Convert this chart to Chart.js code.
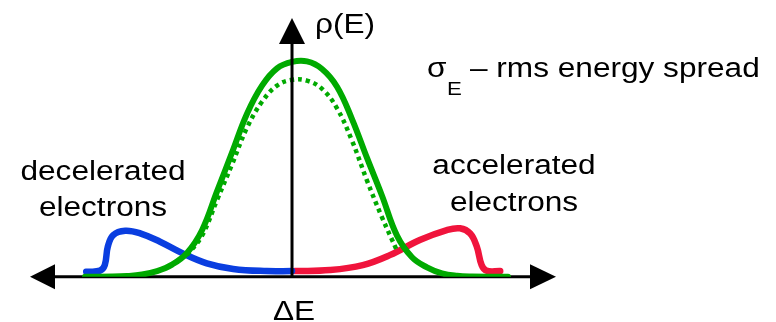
<!DOCTYPE html>
<html>
<head>
<meta charset="utf-8">
<script src="https://cdn.jsdelivr.net/npm/chart.js@4"></script>
<style>
  body { margin: 0; background: #fff; }
  canvas { display: block; }
</style>
</head>
<body>
<canvas id="spread" width="776" height="322"></canvas>
<script>
// energy deviation (in units of ~sigma) and density
const greenX = [-3.45, -3.0, -2.75, -2.5, -2.25, -2.0, -1.75, -1.5, -1.25, -1.0, -0.75, -0.5, -0.25, 0.0, 0.25, 0.5, 0.75, 1.0, 1.25, 1.5, 1.75, 2.0, 2.25, 2.5, 2.75, 3.0, 3.6];
const greenY = [0, 0.0005, 0.003, 0.01, 0.026, 0.056, 0.11, 0.215, 0.395, 0.575, 0.755, 0.885, 0.965, 0.995, 0.997, 0.962, 0.88, 0.73, 0.55, 0.375, 0.19, 0.09, 0.043, 0.015, 0.004, 0.001, 0];

const dottedX = [-1.75, -1.5, -1.25, -1.0, -0.75, -0.5, -0.25, 0.0, 0.25, 0.5, 0.75, 1.0, 1.25, 1.5, 1.75];
const dottedY = [0.10, 0.19, 0.355, 0.52, 0.69, 0.81, 0.885, 0.912, 0.908, 0.87, 0.78, 0.63, 0.445, 0.275, 0.12];

const blueX = [-3.43, -3.20, -3.12, -3.07, -2.98, -2.78, -2.53, -2.20, -1.82, -1.42, -0.98, -0.42, 0];
const blueY = [0.023, 0.028, 0.054, 0.139, 0.193, 0.213, 0.201, 0.162, 0.108, 0.062, 0.036, 0.026, 0.026];

const redX = [0.05, 0.63, 1.18, 1.63, 2.13, 2.58, 2.80, 2.97, 3.08, 3.16, 3.24, 3.47];
const redY = [0.026, 0.031, 0.054, 0.10, 0.17, 0.216, 0.224, 0.20, 0.139, 0.054, 0.028, 0.026];

const xMin = -4.367, xMax = 4.4;
const yMax = 1.198;

function pts(xs, ys) {
  return xs.map((x, i) => ({ x: x, y: ys[i] }));
}

const FONT = '"Liberation Sans", Arial, sans-serif';
const STRETCH = 1.17;

function drawText(ctx, txt, x, y, size, align) {
  ctx.save();
  ctx.translate(x, y);
  ctx.scale(STRETCH, 1);
  ctx.font = size + 'px ' + FONT;
  ctx.textAlign = align || 'left';
  ctx.textBaseline = 'alphabetic';
  ctx.fillStyle = '#000';
  ctx.fillText(txt, 0, 0);
  ctx.restore();
}

function arrowHead(ctx, tipX, tipY, dir) {
  ctx.beginPath();
  if (dir === 'left') {
    ctx.moveTo(tipX, tipY);
    ctx.lineTo(tipX + 25, tipY - 12.5);
    ctx.lineTo(tipX + 25, tipY + 12.5);
  } else if (dir === 'right') {
    ctx.moveTo(tipX, tipY);
    ctx.lineTo(tipX - 26, tipY - 12.5);
    ctx.lineTo(tipX - 26, tipY + 12.5);
  } else {
    ctx.moveTo(tipX, tipY);
    ctx.lineTo(tipX - 13, tipY + 26);
    ctx.lineTo(tipX + 13, tipY + 26);
  }
  ctx.closePath();
  ctx.fill();
}

const axesPlugin = {
  id: 'axes',
  beforeDatasetsDraw(chart) {
    const ctx = chart.ctx;
    const sx = chart.scales.x, sy = chart.scales.y;
    const y0 = sy.getPixelForValue(0);
    const left = sx.getPixelForValue(xMin), right = sx.getPixelForValue(xMax);
    ctx.save();
    ctx.strokeStyle = '#000';
    ctx.fillStyle = '#000';
    ctx.lineWidth = 3;
    ctx.beginPath();
    ctx.moveTo(left + 20, y0);
    ctx.lineTo(right - 20, y0);
    ctx.stroke();
    arrowHead(ctx, left, y0, 'left');
    arrowHead(ctx, right, y0, 'right');
    ctx.restore();
  },
  afterDatasetsDraw(chart) {
    const ctx = chart.ctx;
    const sx = chart.scales.x, sy = chart.scales.y;
    const x0 = sx.getPixelForValue(0);
    const y0 = sy.getPixelForValue(0);
    const top = sy.getPixelForValue(yMax);
    ctx.save();
    ctx.strokeStyle = '#000';
    ctx.fillStyle = '#000';
    ctx.lineWidth = 3;
    ctx.beginPath();
    ctx.moveTo(x0, y0 + 1);
    ctx.lineTo(x0, top + 20);
    ctx.stroke();
    arrowHead(ctx, x0, top, 'up');

    // labels
    drawText(ctx, 'ρ(E)', 315, 33, 27);
    drawText(ctx, 'σ', 427, 77, 27);
    drawText(ctx, 'E', 447, 95, 19);
    drawText(ctx, '– rms energy spread', 470, 77, 27);
    drawText(ctx, 'decelerated', 103, 180, 27, 'center');
    drawText(ctx, 'electrons', 103, 216, 27, 'center');
    drawText(ctx, 'accelerated', 514, 174, 27, 'center');
    drawText(ctx, 'electrons', 514, 211, 27, 'center');
    drawText(ctx, 'ΔE', 294, 320, 27, 'center');
    ctx.restore();
  }
};

new Chart(document.getElementById('spread'), {
  type: 'line',
  data: {
    datasets: [
      {
        label: 'total',
        data: pts(greenX, greenY),
        borderColor: '#00aa00',
        borderWidth: 6,
        order: 1
      },
      {
        label: 'initial',
        data: pts(dottedX, dottedY),
        borderColor: '#00aa00',
        borderWidth: 4.5,
        borderDash: [4, 4],
        borderCapStyle: 'butt',
        order: 2
      },
      {
        label: 'decelerated',
        data: pts(blueX, blueY),
        borderColor: '#0a3ee0',
        borderWidth: 6.5,
        order: 3
      },
      {
        label: 'accelerated',
        data: pts(redX, redY),
        borderColor: '#f0143c',
        borderWidth: 6.5,
        order: 3
      }
    ]
  },
  options: {
    responsive: false,
    animation: false,
    devicePixelRatio: 1,
    layout: { padding: { left: 30, right: 220, top: 18, bottom: 45.3 } },
    elements: {
      point: { radius: 0 },
      line: { tension: 0.4, fill: false, borderCapStyle: 'round', borderJoinStyle: 'round' }
    },
    plugins: { legend: { display: false }, tooltip: { enabled: false } },
    scales: {
      x: { type: 'linear', min: xMin, max: xMax, display: false },
      y: { type: 'linear', min: 0, max: yMax, display: false }
    }
  },
  plugins: [axesPlugin]
});
</script>
</body>
</html>
